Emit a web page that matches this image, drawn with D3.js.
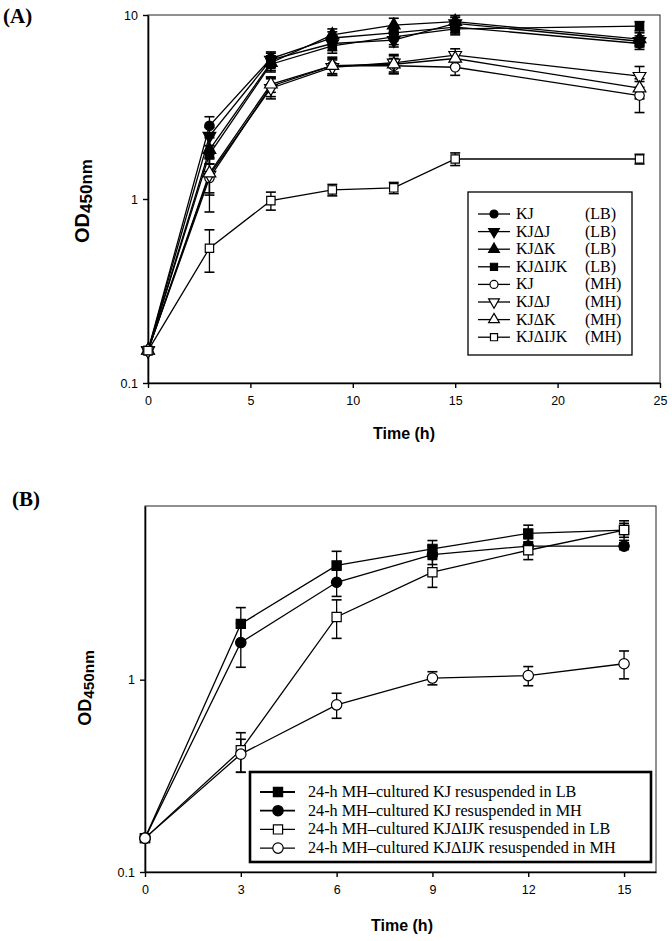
<!DOCTYPE html>
<html><head><meta charset="utf-8">
<script src="https://cdn.jsdelivr.net/npm/d3@7"></script>
<style>body{margin:0;background:#fff;}svg{display:block;}</style>
</head><body>
<svg id="c" width="672" height="941"></svg>
<script>
// ---------- Panel A data ----------
const timesA = [0, 3, 6, 9, 12, 15, 24];
const xTicksA = [0, 5, 10, 15, 20, 25];
const yTicksA = [0.1, 1, 10];
const namesA = ["KJ", "KJΔJ", "KJΔK", "KJΔIJK", "KJ", "KJΔJ", "KJΔK", "KJΔIJK"];
const mediaA = ["(LB)", "(LB)", "(LB)", "(LB)", "(MH)", "(MH)", "(MH)", "(MH)"];
const symbolsA = ["circle", "down", "up", "square", "circle", "down", "up", "square"];
const filledA = [true, true, true, true, false, false, false, false];
const kjLB     = [0.15, 2.5, 5.8, 7.5, 8.0, 8.6, 7.0];
const kjdJLB   = [0.15, 2.2, 5.7, 7.0, 7.3, 9.0, 7.2];
const kjdKLB   = [0.15, 1.85, 5.5, 7.8, 8.8, 9.2, 7.4];
const kjdIJKLB = [0.15, 1.75, 5.4, 6.8, 7.6, 8.4, 8.7];
const kjMH     = [0.15, 1.3, 4.1, 5.3, 5.3, 5.2, 3.65];
const kjdJMH   = [0.15, 1.35, 4.0, 5.2, 5.5, 6.05, 4.65];
const kjdKMH   = [0.15, 1.38, 4.2, 5.3, 5.4, 5.8, 4.0];
const kjdIJKMH = [0.15, 0.54, 0.98, 1.12, 1.15, 1.65, 1.65];
const errKjLB     = [0, 0.3, 0.5, 0.6, 0.6, 0.6, 0.5];
const errKjdJLB   = [0, 0.25, 0.5, 0.6, 0.6, 0.7, 0.5];
const errKjdKLB   = [0, 0.3, 0.5, 0.6, 0.8, 0.7, 0.6];
const errKjdIJKLB = [0, 0.2, 0.5, 0.6, 0.7, 0.6, 0.5];
const errKjMH     = [0, 0.45, 0.5, 0.6, 0.5, 0.5, 0.7];
const errKjdJMH   = [0, 0.3, 0.5, 0.5, 0.6, 0.5, 0.6];
const errKjdKMH   = [0, 0.3, 0.4, 0.5, 0.6, 0.5, 0.5];
const errKjdIJKMH = [0, 0.14, 0.11, 0.08, 0.08, 0.13, 0.1];
const valuesA = [kjLB, kjdJLB, kjdKLB, kjdIJKLB, kjMH, kjdJMH, kjdKMH, kjdIJKMH];
const errorsA = [errKjLB, errKjdJLB, errKjdKLB, errKjdIJKLB, errKjMH, errKjdJMH, errKjdKMH, errKjdIJKMH];

// ---------- Panel B data ----------
const timesB = [0, 3, 6, 9, 12, 15];
const xTicksB = [0, 3, 6, 9, 12, 15];
const yTicksB = [0.1, 1];
const labelsB = [
  "24-h MH–cultured KJ resuspended in LB",
  "24-h MH–cultured KJ resuspended in MH",
  "24-h MH–cultured KJΔIJK resuspended in LB",
  "24-h MH–cultured KJΔIJK resuspended in MH"
];
const symbolsB = ["square", "circle", "square", "circle"];
const filledB = [true, true, false, false];
const kjInLB   = [0.15, 1.95, 3.93, 4.79, 5.76, 6.0];
const kjInMH   = [0.15, 1.56, 3.21, 4.47, 4.95, 4.95];
const dInLB    = [0.15, 0.43, 2.12, 3.62, 4.71, 6.0];
const dInMH    = [0.15, 0.41, 0.74, 1.02, 1.05, 1.21];
const errKjInLB = [0, 0.42, 0.72, 0.5, 0.6, 0.7];
const errKjInMH = [0, 0.4, 0.5, 0.5, 0.45, 0.2];
const errDInLB  = [0, 0.1, 0.48, 0.6, 0.5, 0.5];
const errDInMH  = [0, 0.08, 0.11, 0.08, 0.12, 0.2];
const valuesB = [kjInLB, kjInMH, dInLB, dInMH];
const errorsB = [errKjInLB, errKjInMH, errDInLB, errDInMH];

const svg = d3.select("#c");
const sansF = "Liberation Sans, Arial, sans-serif";
const serifF = "Liberation Serif, Times New Roman, serif";

function symPath(kind, size) {
  const t = kind === "circle" ? d3.symbolCircle : kind === "square" ? d3.symbolSquare : d3.symbolTriangle;
  return d3.symbol().type(t).size(size)();
}
function drawMarker(g, kind, filled, x, y, size) {
  g.append("path")
    .attr("d", symPath(kind, size))
    .attr("transform", `translate(${x},${y})` + (kind === "down" ? " rotate(180)" : ""))
    .attr("fill", filled ? "#000" : "#fff")
    .attr("stroke", "#000").attr("stroke-width", 1.2);
}

function panel(opt) {
  const g = svg.append("g");
  const x = d3.scaleLinear().domain(opt.xDomain).range([opt.left, opt.right]);
  const y = d3.scaleLog().domain(opt.yDomain).range([opt.bottom, opt.top]);
  g.append("rect").attr("x", opt.left).attr("y", opt.top)
    .attr("width", opt.right - opt.left).attr("height", opt.bottom - opt.top)
    .attr("fill", "none").attr("stroke", "#222").attr("stroke-width", 1);
  const ax = g.append("g").attr("transform", `translate(0,${opt.bottom})`)
    .call(d3.axisBottom(x).tickValues(opt.xTicks).tickSize(5).tickSizeOuter(0).tickPadding(8).tickFormat(d3.format("d")));
  const ay = g.append("g").attr("transform", `translate(${opt.left},0)`)
    .call(d3.axisLeft(y).tickValues(opt.yTicks).tickSize(5).tickSizeOuter(0).tickPadding(5).tickFormat(d => d >= 1 ? d3.format("d")(d) : d3.format(".1f")(d)));
  [ax, ay].forEach(a => {
    a.selectAll("path.domain").attr("stroke", "#000").attr("stroke-width", 1.6);
    a.selectAll("line").attr("stroke", "#000").attr("stroke-width", 1.4);
    a.selectAll("text").attr("font-family", sansF).attr("font-size", 12.5).attr("fill", "#000");
  });
  opt.values.forEach((vals, i) => {
    const pts = vals.map((v, j) => [x(opt.times[j]), y(v)]);
    g.append("path").attr("d", d3.line()(pts)).attr("fill", "none")
      .attr("stroke", "#000").attr("stroke-width", 1.3);
  });
  opt.values.forEach((vals, i) => {
    vals.forEach((v, j) => {
      const e = opt.errors[i][j];
      if (e > 0) {
        const cx = x(opt.times[j]);
        const y1 = y(v + e), y0 = y(Math.max(v - e, 0.101));
        g.append("line").attr("x1", cx).attr("x2", cx).attr("y1", y1).attr("y2", y0).attr("stroke", "#000").attr("stroke-width", 1.3);
        [y1, y0].forEach(yy => g.append("line").attr("x1", cx - 5).attr("x2", cx + 5).attr("y1", yy).attr("y2", yy).attr("stroke", "#000").attr("stroke-width", 1.6));
      }
    });
  });
  opt.values.forEach((vals, i) => {
    vals.forEach((v, j) => drawMarker(g, opt.symbols[i], opt.filled[i], x(opt.times[j]), y(v), opt.mSize));
  });
  g.append("text").attr("x", opt.xLabelX).attr("y", opt.xLabelY).attr("text-anchor", "middle")
    .attr("font-family", sansF).attr("font-weight", "bold").attr("font-size", opt.xLabelSize).text("Time (h)");
  const yl = g.append("text").attr("transform", `translate(${opt.yLabelX},${opt.yLabelY}) rotate(-90)`)
    .attr("text-anchor", "middle").attr("font-family", sansF).attr("font-weight", "bold").attr("font-size", opt.yLabelSize);
  yl.append("tspan").text("OD");
  yl.append("tspan").attr("font-size", opt.yLabelSize * 0.85).attr("dy", 3).text("450nm");
  g.append("text").attr("x", opt.tagX).attr("y", opt.tagY).attr("font-family", serifF)
    .attr("font-weight", "bold").attr("font-size", 21).text(opt.tag);
  return {g, x, y};
}

const A = panel({
  times: timesA, values: valuesA, errors: errorsA, symbols: symbolsA, filled: filledA,
  xDomain: [0, 25], yDomain: [0.1, 10], xTicks: xTicksA, yTicks: yTicksA,
  left: 148, right: 660, top: 15, bottom: 383, mSize: 70,
  xLabelX: 404, xLabelY: 439, xLabelSize: 16,
  yLabelX: 89, yLabelY: 201, yLabelSize: 20,
  tag: "(A)", tagX: 3, tagY: 23
});
{
  const lg = A.g.append("g");
  lg.append("rect").attr("x", 468).attr("y", 192).attr("width", 164).attr("height", 163)
    .attr("fill", "#fff").attr("stroke", "#000").attr("stroke-width", 1.3);
  namesA.forEach((n, i) => {
    const yy = 214 + i * 17.6;
    lg.append("line").attr("x1", 478).attr("x2", 510).attr("y1", yy).attr("y2", yy).attr("stroke", "#000").attr("stroke-width", 1.3);
    drawMarker(lg, symbolsA[i], filledA[i], 494, yy, 50);
    lg.append("text").attr("x", 516).attr("y", yy + 5).attr("font-family", serifF).attr("font-size", 16).text(n);
    lg.append("text").attr("x", 585).attr("y", yy + 5).attr("font-family", serifF).attr("font-size", 16).text(mediaA[i]);
  });
}

const B = panel({
  times: timesB, values: valuesB, errors: errorsB, symbols: symbolsB, filled: filledB,
  xDomain: [0, 16], yDomain: [0.1, 8], xTicks: xTicksB, yTicks: yTicksB,
  left: 145, right: 656, top: 506, bottom: 872, mSize: 85,
  xLabelX: 402, xLabelY: 931, xLabelSize: 16,
  yLabelX: 91, yLabelY: 688, yLabelSize: 18,
  tag: "(B)", tagX: 12, tagY: 506
});
{
  const lg = B.g.append("g");
  lg.append("rect").attr("x", 250).attr("y", 772).attr("width", 401).attr("height", 90)
    .attr("fill", "#fff").attr("stroke", "#000").attr("stroke-width", 2.6);
  labelsB.forEach((t, i) => {
    const yy = 792 + i * 18.7;
    lg.append("line").attr("x1", 260).attr("x2", 295).attr("y1", yy).attr("y2", yy).attr("stroke", "#000").attr("stroke-width", filledB[i] ? 1.8 : 1.4);
    drawMarker(lg, symbolsB[i], filledB[i], 278, yy, 85);
    lg.append("text").attr("x", 308).attr("y", yy + 5).attr("font-family", serifF).attr("font-size", 16.2).text(t);
  });
}
</script>
</body></html>
